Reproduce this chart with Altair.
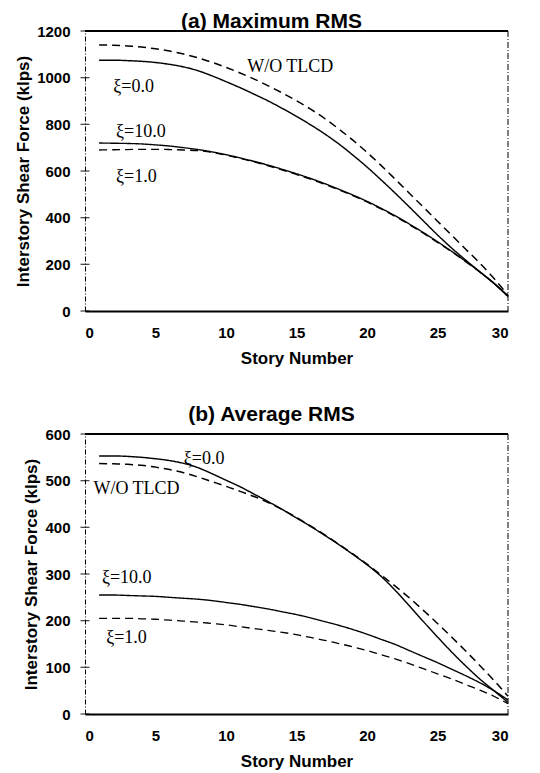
import altair as alt
import pandas as pd

stories = list(range(1, 31))

# Panel (a) Maximum RMS
a_wo = [1140, 1139, 1136, 1131, 1124, 1114, 1101, 1085, 1066, 1044, 1020, 994, 965, 934, 901,
        865, 825, 780, 732, 680, 624, 565, 505, 445, 385, 325, 265, 205, 140, 68]
a_xi0 = [1075, 1075, 1073, 1070, 1065, 1057, 1046, 1030, 1008, 983, 957, 929, 900, 868, 834,
         798, 759, 716, 668, 617, 562, 505, 446, 386, 326, 270, 218, 168, 118, 62]
a_xi10 = [720, 719, 718, 716, 712, 707, 700, 692, 682, 670, 656, 641, 625, 607, 588,
          568, 546, 522, 497, 470, 440, 408, 373, 336, 297, 256, 213, 168, 120, 65]
a_xi1 = [690, 691, 692, 693, 693, 692, 690, 687, 680, 668, 654, 639, 622, 604, 585,
         565, 543, 519, 494, 467, 437, 405, 370, 333, 294, 254, 211, 167, 119, 64]

# Panel (b) Average RMS
b_wo = [537, 536, 535, 533, 529, 524, 517, 508, 498, 488, 477, 466, 453, 438, 421,
        403, 384, 364, 343, 321, 298, 274, 249, 222, 194, 165, 135, 104, 72, 38]
b_xi0 = [553, 553, 552, 550, 547, 543, 537, 528, 515, 501, 487, 471, 455, 438, 420,
         402, 383, 363, 342, 320, 295, 265, 232, 198, 165, 133, 103, 75, 50, 25]
b_xi10 = [255, 255, 254, 253, 252, 250, 248, 246, 243, 239, 235, 230, 225, 219, 213,
          206, 198, 190, 181, 171, 160, 149, 136, 123, 110, 96, 82, 67, 50, 30]
b_xi1 = [205, 205, 205, 204, 203, 201, 199, 197, 194, 191, 187, 183, 179, 175, 170,
         164, 158, 151, 144, 136, 127, 118, 108, 97, 86, 75, 63, 51, 38, 22]

series_names = ["W/O TLCD", "xi=0.0", "xi=10.0", "xi=1.0"]
x_ticks = [0, 5, 10, 15, 20, 25, 30]
a_y_ticks = [0, 200, 400, 600, 800, 1000, 1200]
b_y_ticks = [0, 100, 200, 300, 400, 500, 600]

# annotation labels (text, story, value)
a_labels = ["W/O TLCD", "ξ=0.0", "ξ=10.0", "ξ=1.0"]
a_label_x = [11.5, 2.0, 2.2, 2.2]
a_label_y = [1046, 960, 767, 574]
b_labels = ["ξ=0.0", "W/O TLCD", "ξ=10.0", "ξ=1.0"]
b_label_x = [7.0, 0.6, 1.2, 1.5]
b_label_y = [546, 482, 292, 163]

SANS = "Liberation Sans"
SERIF = "Liberation Serif"


def make_panel(title, series_vals, y_max, y_ticks, lab, lab_x, lab_y, title_offset):
    rows = []
    for name, vals in zip(series_names, series_vals):
        for s, v in zip(stories, vals):
            rows.append({"series": name, "story": s, "value": v})
    df = pd.DataFrame(rows)

    x_enc = alt.X("story:Q", scale=alt.Scale(domain=[0, 30], nice=False),
                  axis=alt.Axis(values=x_ticks, title="Story Number", grid=False, ticks=False,
                                domainWidth=2, domainColor="black", labelPadding=14,
                                labelFont=SANS, labelFontWeight="bold", labelFontSize=15,
                                labelColor="black", titleFont=SANS, titleFontSize=17,
                                titleFontWeight="bold", titleColor="black", titlePadding=10))
    y_enc = alt.Y("value:Q", scale=alt.Scale(domain=[0, y_max], nice=False),
                  axis=alt.Axis(values=y_ticks, format="d", title="Interstory Shear Force (klps)",
                                grid=False, ticks=False, domainDash=[5, 2, 1, 2],
                                domainColor="black", domainWidth=1, labelPadding=15,
                                labelFont=SANS, labelFontWeight="bold", labelFontSize=15,
                                labelColor="black", titleFont=SANS, titleFontSize=17,
                                titleFontWeight="bold", titleColor="black", titlePadding=4))

    lines = alt.Chart(df).mark_line(color="black", interpolate="monotone").encode(
        x=x_enc,
        y=y_enc,
        detail="series:N",
        strokeDash=alt.StrokeDash("series:N", scale=alt.Scale(domain=series_names,
                                  range=[[8, 5], [1, 0], [1, 0], [8, 5]]), legend=None),
        strokeWidth=alt.StrokeWidth("series:N", scale=alt.Scale(domain=series_names,
                                    range=[1.5, 1.3, 2.2, 2.0]), legend=None),
    )

    tick_df = pd.DataFrame({"story": [0] * len(y_ticks), "value": y_ticks})
    ticks = alt.Chart(tick_df).mark_tick(orient="horizontal", size=9, thickness=1.3,
                                         color="black").encode(x=x_enc, y=y_enc)

    top = alt.Chart().mark_rule(color="black", strokeWidth=2).encode(y=alt.datum(y_max))
    right = alt.Chart().mark_rule(color="black", strokeWidth=1, strokeDash=[6, 2, 1, 2]).encode(
        x=alt.datum(30))

    ann_df = pd.DataFrame({"story": lab_x, "value": lab_y, "label": lab})
    texts = alt.Chart(ann_df).mark_text(align="left", baseline="middle", font=SERIF,
                                        fontSize=18, color="black").encode(
        x=x_enc, y=y_enc, text="label:N")

    return alt.layer(lines, ticks, top, right, texts).properties(
        width=423, height=280,
        title=alt.TitleParams(title, font=SANS, fontSize=21, fontWeight="bold",
                              color="black", frame="group", offset=title_offset, dx=-25))


pa = make_panel("(a) Maximum RMS", [a_wo, a_xi0, a_xi10, a_xi1], 1200, a_y_ticks,
                a_labels, a_label_x, a_label_y, -8)
pb = make_panel("(b) Average RMS", [b_wo, b_xi0, b_xi10, b_xi1], 600, b_y_ticks,
                b_labels, b_label_x, b_label_y, 2)

chart = alt.vconcat(pa, pb, spacing=38).configure_view(stroke=None).properties(
    background="white", padding={"left": 6, "top": 3, "right": 5, "bottom": 2})

chart.save("out.html", embed_options={"renderer": "svg", "actions": False})
